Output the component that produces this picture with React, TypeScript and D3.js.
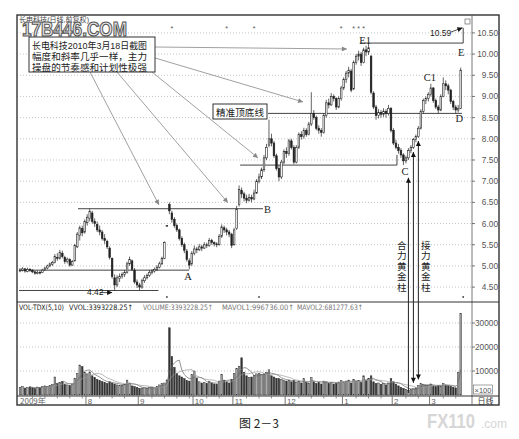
import React from "react";
import * as d3 from "d3";

type Bar = [number, number, number, number]; // open, high, low, close

const monthLabels = ["2009年", "8", "9", "10", "11", "12", "1", "2", "3"];

const julBars: Bar[] = [
  [4.88, 4.95, 4.85, 4.9], [4.9, 4.97, 4.87, 4.93], [4.93, 4.95, 4.84, 4.88], [4.87, 4.96, 4.85, 4.92],
  [4.92, 4.95, 4.86, 4.9], [4.9, 4.92, 4.83, 4.86], [4.86, 4.88, 4.79, 4.83], [4.82, 4.89, 4.8, 4.85],
  [4.85, 4.88, 4.8, 4.84], [4.84, 4.93, 4.83, 4.9], [4.9, 4.98, 4.88, 4.95], [4.95, 5.03, 4.92, 5.0],
  [5.0, 5.08, 4.97, 5.05], [5.04, 5.12, 5.0, 5.08], [5.08, 5.28, 5.06, 5.22], [5.2, 5.3, 5.12, 5.18],
  [5.18, 5.38, 5.15, 5.32], [5.3, 5.36, 5.18, 5.22], [5.2, 5.24, 5.05, 5.1], [5.1, 5.2, 5.06, 5.16],
  [5.15, 5.18, 4.98, 5.02], [5.02, 5.14, 5.0, 5.1], [5.12, 5.52, 5.1, 5.48], [5.45, 5.8, 5.42, 5.75],
  [5.72, 5.95, 5.6, 5.9], [5.88, 5.95, 5.7, 5.78], [5.8, 6.1, 5.76, 6.05],
];
const augBars: Bar[] = [
  [6.02, 6.22, 5.95, 6.15], [6.12, 6.35, 6.05, 6.28], [6.25, 6.3, 6.0, 6.05], [6.05, 6.12, 5.92, 6.0],
  [5.98, 6.05, 5.8, 5.85], [5.85, 5.95, 5.72, 5.8], [5.8, 5.85, 5.6, 5.65], [5.65, 5.75, 5.52, 5.6],
  [5.58, 5.62, 5.4, 5.45], [5.42, 5.46, 5.15, 5.2], [5.18, 5.2, 4.7, 4.75], [4.72, 4.8, 4.42, 4.55],
  [4.55, 4.78, 4.5, 4.72], [4.7, 4.82, 4.62, 4.75], [4.76, 4.85, 4.7, 4.8], [4.8, 4.9, 4.74, 4.85],
  [4.85, 5.1, 4.82, 5.05], [5.05, 5.22, 5.0, 5.15], [5.12, 5.15, 4.88, 4.92], [4.9, 4.95, 4.58, 4.62],
  [4.62, 4.68, 4.48, 4.55],
];
const sepBars: Bar[] = [
  [4.55, 4.6, 4.43, 4.5], [4.5, 4.7, 4.46, 4.65], [4.65, 4.78, 4.6, 4.72], [4.72, 4.82, 4.68, 4.78],
  [4.78, 4.9, 4.74, 4.85], [4.85, 4.92, 4.8, 4.88], [4.88, 4.96, 4.84, 4.92], [4.92, 5.02, 4.88, 4.97],
  [4.97, 5.1, 4.94, 5.05], [5.05, 5.22, 5.02, 5.18], [5.18, 5.58, 5.16, 5.55], [5.95, 5.96, 5.94, 5.95],
  [6.45, 6.5, 6.22, 6.3], [6.25, 6.3, 6.02, 6.1], [6.1, 6.15, 5.9, 5.95], [5.95, 6.0, 5.8, 5.85],
  [5.85, 5.88, 5.6, 5.65], [5.65, 5.7, 5.45, 5.5], [5.5, 5.55, 5.3, 5.37], [5.35, 5.4, 5.1, 5.15],
  [5.12, 5.18, 4.92, 5.02], [5.05, 5.35, 5.0, 5.3],
];
const octBars: Bar[] = [
  [5.3, 5.48, 5.25, 5.4], [5.4, 5.45, 5.3, 5.38], [5.38, 5.52, 5.35, 5.45], [5.45, 5.5, 5.35, 5.42],
  [5.42, 5.56, 5.4, 5.5], [5.5, 5.55, 5.42, 5.48], [5.48, 5.66, 5.45, 5.6], [5.6, 5.64, 5.5, 5.55],
  [5.55, 5.58, 5.46, 5.52], [5.52, 5.56, 5.44, 5.5], [5.5, 5.75, 5.48, 5.7], [5.7, 5.98, 5.66, 5.92],
  [5.9, 5.95, 5.78, 5.85], [5.85, 5.9, 5.72, 5.8], [5.8, 5.85, 5.68, 5.75], [5.75, 5.78, 5.42, 5.48],
];
const novBars: Bar[] = [
  [5.5, 5.9, 5.48, 5.85], [5.88, 6.42, 5.85, 6.35], [6.45, 6.9, 6.4, 6.8], [6.78, 6.85, 6.6, 6.7],
  [6.7, 6.75, 6.52, 6.6], [6.6, 6.68, 6.48, 6.55], [6.55, 6.7, 6.52, 6.62], [6.62, 6.68, 6.5, 6.58],
  [6.58, 6.8, 6.55, 6.72], [6.72, 7.05, 6.7, 7.0], [7.0, 7.18, 6.95, 7.1], [7.1, 7.32, 7.05, 7.27],
  [7.27, 7.62, 7.22, 7.55], [7.55, 7.88, 7.5, 7.8], [7.85, 8.45, 7.8, 8.0], [8.0, 8.12, 7.82, 7.9],
  [7.9, 7.95, 7.55, 7.6], [7.6, 7.65, 7.25, 7.3], [7.3, 7.38, 7.0, 7.1], [7.1, 7.5, 7.05, 7.45],
  [7.45, 7.75, 7.4, 7.7],
];
const decBars: Bar[] = [
  [7.7, 7.8, 7.55, 7.65], [7.65, 8.0, 7.6, 7.95], [7.95, 8.0, 7.75, 7.8], [7.8, 7.85, 7.4, 7.45],
  [7.45, 7.85, 7.42, 7.8], [7.8, 8.15, 7.76, 8.1], [8.1, 8.18, 7.98, 8.05], [8.05, 8.26, 8.0, 8.2],
  [8.2, 8.25, 8.05, 8.1], [8.1, 8.4, 8.08, 8.35], [8.35, 9.1, 8.3, 8.6], [8.6, 8.68, 8.45, 8.5],
  [8.5, 8.55, 8.2, 8.25], [8.25, 8.32, 8.12, 8.2], [8.2, 8.25, 8.05, 8.15], [8.15, 8.6, 8.12, 8.55],
  [8.55, 8.92, 8.5, 8.85], [8.85, 8.95, 8.72, 8.8], [8.8, 9.08, 8.78, 9.0], [9.0, 9.05, 8.88, 8.95],
  [8.95, 8.98, 8.68, 8.75], [8.75, 9.0, 8.72, 8.95], [8.95, 9.25, 8.9, 9.2],
];
const janBars: Bar[] = [
  [9.2, 9.45, 9.15, 9.4], [9.4, 9.6, 9.32, 9.55], [9.55, 9.7, 9.45, 9.62], [9.6, 9.65, 9.1, 9.15],
  [9.18, 9.85, 9.15, 9.8], [9.8, 10.0, 9.75, 9.95], [9.95, 10.08, 9.85, 10.0], [10.0, 10.05, 9.72, 9.8],
  [9.8, 10.15, 9.78, 10.1], [10.1, 10.2, 9.95, 10.05], [10.05, 10.26, 9.98, 10.15], [9.95, 9.98, 9.05, 9.1],
  [9.08, 9.12, 8.7, 8.75], [8.75, 8.8, 8.45, 8.55], [8.55, 8.7, 8.48, 8.62], [8.62, 8.68, 8.5, 8.58],
  [8.58, 8.72, 8.52, 8.65], [8.65, 8.7, 8.5, 8.6], [8.6, 8.8, 8.55, 8.72], [8.72, 8.75, 8.15, 8.2],
];
const febBars: Bar[] = [
  [8.2, 8.25, 7.85, 7.9], [7.9, 7.98, 7.75, 7.8], [7.8, 7.88, 7.65, 7.72], [7.72, 7.78, 7.55, 7.62],
  [7.62, 7.66, 7.38, 7.48], [7.48, 7.6, 7.42, 7.55], [7.55, 7.78, 7.5, 7.72], [7.72, 7.85, 7.66, 7.8],
  [7.8, 8.02, 7.76, 7.98], [7.98, 8.1, 7.92, 8.05], [8.05, 8.3, 8.02, 8.25], [8.25, 8.7, 8.22, 8.65],
  [8.65, 8.95, 8.6, 8.9], [8.9, 9.0, 8.82, 8.95], [8.95, 9.1, 8.88, 9.05],
];
const marBars: Bar[] = [
  [9.05, 9.3, 9.0, 9.2], [9.2, 9.22, 8.85, 8.9], [8.9, 8.95, 8.7, 8.75], [8.75, 8.8, 8.6, 8.68],
  [8.68, 9.05, 8.65, 9.0], [9.0, 9.45, 8.98, 9.3], [9.3, 9.38, 9.15, 9.25], [9.25, 9.3, 9.05, 9.15],
  [9.15, 9.18, 8.82, 8.88], [8.88, 8.92, 8.68, 8.75], [8.75, 8.8, 8.6, 8.68], [8.68, 8.8, 8.62, 8.72],
  [8.72, 9.68, 8.7, 9.62],
];

const julVol = [3200, 3600, 2900, 3100, 3400, 3000, 2700, 3300, 3000, 3500, 3800, 3600, 4000, 4300, 7500, 4800, 5200, 5600, 4500, 4200, 3900, 4600, 7000, 9000, 12500, 11800, 9500];
const augVol = [8800, 9600, 8000, 7200, 6500, 6000, 5600, 5200, 4800, 5500, 5000, 4600, 4200, 3900, 4100, 4400, 6200, 5000, 3800, 3500, 3200];
const sepVol = [2800, 2900, 3000, 2800, 3100, 3300, 3000, 3600, 4200, 4800, 5000, 6300, 28000, 16000, 11500, 9000, 8000, 7500, 6800, 6000, 5800, 8500];
const octVol = [10000, 7000, 5500, 5000, 5200, 4800, 5600, 5000, 4600, 4500, 5800, 8500, 6200, 5500, 5000, 6500];
const novVol = [9000, 11000, 12000, 15500, 9500, 8000, 7200, 7500, 8200, 8800, 9000, 8500, 8800, 9500, 10500, 8000, 7500, 7000, 6800, 6500, 6000];
const decVol = [5800, 6200, 5500, 6000, 5200, 5600, 5000, 6800, 5200, 5000, 7200, 5500, 4800, 5200, 4600, 5800, 5500, 4800, 5200, 4600, 5000, 5400, 6000];
const janVol = [5500, 5800, 6200, 5000, 6500, 5800, 6000, 5200, 8000, 6200, 7000, 8000, 5500, 4800, 5000, 4500, 4800, 4200, 5000, 6800];
const febVol = [5500, 4500, 3800, 3200, 2800, 2400, 2000, 2300, 2600, 3000, 4000, 4800, 4500, 4200, 4000];
const marVol = [4600, 3800, 3500, 4000, 3700, 4800, 4200, 3900, 3500, 3300, 3000, 9500, 34000];

const priceTicks = [10.5, 10, 9.5, 9, 8.5, 8, 7.5, 7, 6.5, 6, 5.5, 5, 4.5];
const volTicks = [30000, 20000, 10000];
const volHeader = ["VOL-TDX(5,10)", "VVOL:3393228.25↑", "VOLUME:3393228.25↑", "MAVOL1:996736.00↑", "MAVOL2:681277.63↑"];
const noteLines = ["长电科技2010年3月18日截图", "幅度和斜率几乎一样，主力", "操盘的节奏感和计划性极强"];

// horizontal annotation lines: price, from bar index, to bar index
const levelLines = [
  { price: 4.42, from: -0.4, to: 55.6 },
  { price: 4.9, from: -0.4, to: 67.9 },
  { price: 6.35, from: 23.3, to: 97.6 },
  { price: 7.38, from: 88.4, to: 151.4 },
  { price: 8.6, from: 99.6, to: 177.5 },
  { price: 10.26, from: 136.5, to: 178 },
];
// arrows from the note box: target bar index and price
const noteTargets = [
  { sx: 90, sy: 72, i: 55.8, p: 6.44 },
  { sx: 117, sy: 72, i: 83.5, p: 6.49 },
  { sx: 152, sy: 72, i: 95.6, p: 7.55 },
  { sx: 155, sy: 58, i: 113.7, p: 8.87 },
  { sx: 155, sy: 47, i: 131.3, p: 10.12 },
];
const pointLabels = [
  { t: "A", i: 67.5, p: 4.9, dy: 10, anchor: "middle" },
  { t: "B", i: 98.0, p: 6.35, dy: 4, anchor: "start" },
  { t: "C", i: 154.6, p: 7.38, dy: 10, anchor: "middle" },
  { t: "C1", i: 164.6, p: 9.3, dy: -3, anchor: "middle" },
  { t: "E1", i: 138.6, p: 10.26, dy: 0.5, anchor: "middle" },
  { t: "E", i: 177.2, p: 10.26, dy: 13, anchor: "middle" },
  { t: "D", i: 176.4, p: 8.6, dy: 9, anchor: "middle" },
];
const starIdx = [61, 83, 94, 129, 134, 136, 138];
const dotIdx = [59, 96, 178];

export default function App() {
  const bars: Bar[] = [julBars, augBars, sepBars, octBars, novBars, decBars, janBars, febBars, marBars].flat();
  const monthVols = [julVol, augVol, sepVol, octVol, novVol, decVol, janVol, febVol, marVol];
  const vols = monthVols.flat();
  const monthStarts: number[] = [];
  let acc = 0;
  for (const m of monthVols) { monthStarts.push(acc); acc += m.length; }
  const N = bars.length;

  const L = 17, R = 499, T = 15, B = 405, AX = 472, PB = 302, VB = 396;
  const x = d3.scaleLinear().domain([0, N - 1]).range([20, 460.7]);
  const y = d3.scaleLinear().domain([4.5, 10.5]).range([287.1, 32.9]);
  const vy = d3.scaleLinear().domain([0, 30000]).range([395, 323]);
  const bw = 1.6;

  const ma = (n: number) => vols.map((_, i) => (i < n - 1 ? null : (d3.mean(vols.slice(i - n + 1, i + 1)) as number)));
  const maLine = d3.line<number | null>().defined((d) => d != null).x((_, i) => x(i)).y((d) => vy(d as number));
  const ma5 = ma(5), ma10 = ma(10);

  const sans = "Liberation Sans, Arial, sans-serif";
  const cjk = "Noto Sans CJK SC, sans-serif";
  const cjkTight = "Liberation Sans, Noto Sans CJK SC, sans-serif";
  const serif = "Liberation Serif, DejaVu Serif, serif";
  const ink = "#222";

  const hxStart = [19, 69, 143, 222, 297];
  const hxLen = [45, 64, 70, 72, 66];
  const hxCol = ["#222", "#222", "#777", "#777", "#777"];

  const vert = (s: string, cx: number) => (
    <text x={cx} y={240.5} fontSize={9.6} fontFamily={cjk} fill={ink}
      style={{ writingMode: "vertical-rl" as any, letterSpacing: "0.8px" }}>{s}</text>
  );

  return (
    <svg width={519} height={439} style={{ position: "absolute", left: 0, top: 0, background: "#fff" }}>
      <defs>
        <marker id="ag" viewBox="0 0 10 10" refX="10" refY="5" markerWidth="7" markerHeight="5" markerUnits="userSpaceOnUse" orient="auto">
          <path d="M0,0 L10,5 L0,10 z" fill="#888" />
        </marker>
        <marker id="ab" viewBox="0 0 10 10" refX="10" refY="5" markerWidth="6" markerHeight="5" markerUnits="userSpaceOnUse" orient="auto-start-reverse">
          <path d="M0,0 L10,5 L0,10 z" fill="#111" />
        </marker>
      </defs>
      <rect x={0} y={0} width={519} height={439} fill="#fff" />

      {/* grid */}
      {priceTicks.map((p) => (
        <line key={"g" + p} x1={L} x2={AX} y1={y(p)} y2={y(p)} stroke="#aaa" strokeWidth={0.7} strokeDasharray="1,2" />
      ))}
      {volTicks.map((v) => (
        <line key={"vg" + v} x1={L} x2={AX} y1={vy(v)} y2={vy(v)} stroke="#aaa" strokeWidth={0.7} strokeDasharray="1,2" />
      ))}

      {/* header + watermark */}
      <text x={19} y={22} fontSize={7} fontFamily={cjkTight} fill="#444" textLength={70} lengthAdjust="spacingAndGlyphs">长电科技(日线,前复权)</text>
      <text x={22} y={35.5} fontSize={20} fontWeight="bold" fontFamily="Liberation Sans, DejaVu Sans, sans-serif" fill="#e6e6e6" stroke="#555" strokeWidth={1.1} textLength={105} lengthAdjust="spacingAndGlyphs">17B446.COM</text>
      <rect x={465} y={19} width={5} height={5} fill="none" stroke="#666" strokeWidth={0.7} />

      {starIdx.map((i) => (
        <text key={"s" + i} x={x(i)} y={31} fontSize={7} fontFamily={sans} textAnchor="middle" fill="#555">*</text>
      ))}
      {dotIdx.map((i) => (
        <circle key={"d" + i} cx={x(i)} cy={297} r={0.9} fill="#444" />
      ))}

      {/* level lines */}
      {levelLines.map((l, k) => (
        <line key={"l" + k} x1={x(l.from)} x2={x(l.to)} y1={y(l.price)} y2={y(l.price)} stroke="#444" strokeWidth={1} />
      ))}
      <line x1={x(151.4)} x2={x(151.4)} y1={y(7.38)} y2={y(7.62)} stroke="#444" strokeWidth={1} />
      <line x1={x(178)} x2={x(178)} y1={y(10.26)} y2={y(10.62)} stroke="#444" strokeWidth={1} />

      {/* candles */}
      {bars.map(([o, h, l, c], i) => {
        const up = c >= o;
        const top = y(Math.max(o, c));
        const hgt = Math.max(0.8, Math.abs(y(o) - y(c)));
        return (
          <g key={"c" + i}>
            <line x1={x(i)} x2={x(i)} y1={y(h)} y2={y(l)} stroke={ink} strokeWidth={0.7} />
            <rect x={x(i) - bw / 2} y={top} width={bw} height={hgt} fill={up ? "#fff" : ink} stroke={ink} strokeWidth={0.6} />
          </g>
        );
      })}

      {/* volume */}
      {vols.map((v, i) => {
        const [o, , , c] = bars[i];
        const up = c >= o;
        return (
          <rect key={"v" + i} x={x(i) - bw / 2} y={vy(v)} width={bw} height={vy(0) - vy(v)} fill={up ? "#aaa" : "#333"} stroke="#333" strokeWidth={0.5} />
        );
      })}
      <path d={maLine(ma5) || ""} fill="none" stroke="#666" strokeWidth={0.7} />
      <path d={maLine(ma10) || ""} fill="none" stroke="#999" strokeWidth={0.7} />

      {volHeader.map((t, k) => (
        <text key={"h" + k} x={hxStart[k]} y={310} fontSize={7.5} fontFamily="DejaVu Sans, sans-serif" fill={hxCol[k]} textLength={hxLen[k]} lengthAdjust="spacingAndGlyphs">{t}</text>
      ))}

      {/* note box + arrows */}
      {noteTargets.map((a, k) => (
        <line key={"n" + k} x1={a.sx} y1={a.sy} x2={x(a.i)} y2={y(a.p)} stroke="#888" strokeWidth={0.8} markerEnd="url(#ag)" />
      ))}
      <rect x={29} y={37} width={126} height={35} fill="#fff" stroke="#333" strokeWidth={1} />
      <text fontSize={9.6} fontFamily={cjkTight} fill={ink}>
        {noteLines.map((t, k) => (
          <tspan key={"t" + k} x={32} y={48.7 + k * 11} textLength={115} lengthAdjust="spacingAndGlyphs">{t}</tspan>
        ))}
      </text>

      <rect x={213} y={104} width={54} height={15} fill="#fff" stroke="#333" strokeWidth={1} />
      <text x={240} y={115.5} fontSize={9.6} fontFamily={cjk} textAnchor="middle" fill={ink} textLength={48} lengthAdjust="spacingAndGlyphs">精准顶底线</text>

      {/* point labels */}
      {pointLabels.map((p) => (
        <text key={p.t} x={x(p.i)} y={y(p.p) + p.dy} fontSize={10.5} fontFamily={serif} textAnchor={p.anchor as any} fill={ink}>{p.t}</text>
      ))}
      <text x={87} y={295} fontSize={8.5} fontFamily={sans} fill={ink}>4.42</text>
      <line x1={x(32)} x2={x(37)} y1={y(4.37)} y2={y(4.37)} stroke={ink} strokeWidth={0.8} markerEnd="url(#ab)" />
      <text x={430} y={36} fontSize={8.5} fontFamily={sans} fill={ink}>10.59</text>
      <line x1={451} y1={32} x2={x(177.7)} y2={y(10.62)} stroke={ink} strokeWidth={0.8} markerEnd="url(#ab)" />

      {/* golden pillar arrows */}
      <line x1={x(156)} x2={x(156)} y1={vy(0) - 2} y2={y(7.08)} stroke={ink} strokeWidth={1} markerEnd="url(#ab)" />
      <line x1={x(158)} x2={x(158)} y1={vy(vols[158]) - 6} y2={y(bars[158][2]) + 3} stroke={ink} strokeWidth={1} markerEnd="url(#ab)" markerStart="url(#ab)" />
      <line x1={x(160)} x2={x(160)} y1={vy(vols[160]) - 6} y2={y(bars[160][2]) + 3} stroke={ink} strokeWidth={1} markerEnd="url(#ab)" markerStart="url(#ab)" />
      {vert("合力黄金柱", x(156) - 6.5)}
      {vert("接力黄金柱", x(160) + 7.5)}

      {/* frame & axes */}
      <rect x={L} y={T} width={R - L} height={B - T} fill="none" stroke="#333" strokeWidth={1.4} />
      <line x1={AX} x2={AX} y1={T} y2={B} stroke="#555" strokeWidth={0.8} />
      <line x1={L} x2={R} y1={PB} y2={PB} stroke="#333" strokeWidth={1} />
      <line x1={L} x2={R} y1={VB} y2={VB} stroke="#333" strokeWidth={1} />

      {priceTicks.map((p) => (
        <g key={"pt" + p}>
          <line x1={AX} x2={AX + 3} y1={y(p)} y2={y(p)} stroke="#555" strokeWidth={0.8} />
          <text x={498} y={y(p) + 3} fontSize={8.3} fontFamily={sans} textAnchor="end" fill="#555">{p.toFixed(2)}</text>
        </g>
      ))}
      {volTicks.map((v) => (
        <g key={"vt" + v}>
          <line x1={AX} x2={AX + 3} y1={vy(v)} y2={vy(v)} stroke="#555" strokeWidth={0.8} />
          <text x={498} y={vy(v) + 3} fontSize={8.3} fontFamily={sans} textAnchor="end" fill="#555">{v}</text>
        </g>
      ))}
      <rect x={473.5} y={385} width={19} height={9} fill="#fff" stroke="#666" strokeWidth={0.6} />
      <text x={483} y={392.5} fontSize={7.5} fontFamily={sans} textAnchor="middle" fill="#555">×100</text>

      {/* x axis strip */}
      {monthStarts.map((s, k) => (
        <g key={"m" + k}>
          {k > 0 && <line x1={x(s) - 1.25} x2={x(s) - 1.25} y1={VB} y2={B} stroke="#555" strokeWidth={0.8} />}
          <text x={k === 0 ? 20 : x(s) + 0.5} y={403.5} fontSize={8} fontFamily={k === 0 ? cjk : sans} fill="#666">{monthLabels[k]}</text>
          {d3.range(s + 5, k + 1 < monthStarts.length ? monthStarts[k + 1] - 1 : N, 5).map((j) => (
            <line key={j} x1={x(j)} x2={x(j)} y1={VB} y2={VB + 2.5} stroke="#666" strokeWidth={0.7} />
          ))}
        </g>
      ))}
      <text x={485.5} y={403.5} fontSize={8} fontFamily={cjk} textAnchor="middle" fill="#333">日线</text>

      {/* caption & watermark */}
      <text x={259} y={428} fontSize={12} fontFamily={cjk} textAnchor="middle" fill="#222">图 2－3</text>
      <text transform="translate(427,428) scale(1,1.3)" x={0} y={0} fontSize={16} fontWeight="bold" fontFamily="Liberation Sans, DejaVu Sans, sans-serif" fill="#d6d6d6" textLength={48} lengthAdjust="spacingAndGlyphs">FX110</text>
      <text x={481} y={428} fontSize={13} fontFamily="Liberation Sans, DejaVu Sans, sans-serif" fill="#d6d6d6" textLength={26} lengthAdjust="spacingAndGlyphs">.com</text>
    </svg>
  );
}
